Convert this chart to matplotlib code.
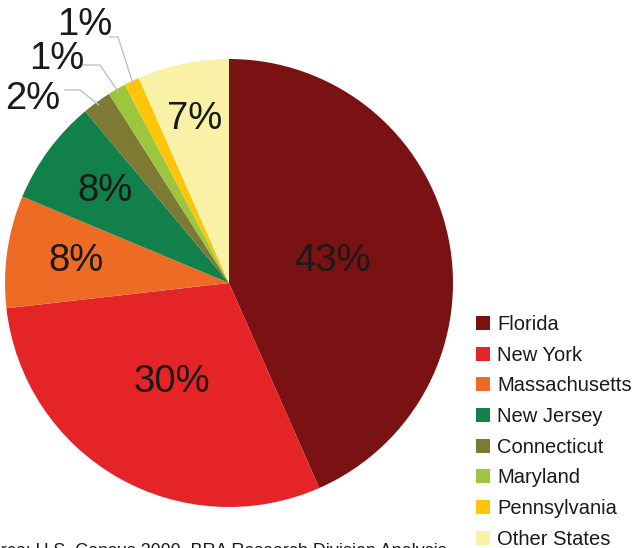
import matplotlib
matplotlib.use("Agg")
import matplotlib.pyplot as plt
from matplotlib.patches import Patch
import numpy as np

states = ["Florida", "New York", "Massachusetts", "New Jersey", "Connecticut",
          "Maryland", "Pennsylvania", "Other States"]
shares = [43.4, 29.8, 8.1, 7.6, 2.1, 1.3, 1.1, 6.6]
colors = ["#7A1214", "#E52428", "#EE6B26", "#12804A", "#7C7A33",
          "#9CC63E", "#FFC50A", "#F8F1A6"]
source = "Source: U.S. Census 2000, BRA Research Division Analysis"

plt.rcParams['font.family'] = ['Liberation Sans', 'DejaVu Sans']

W, H = 635, 548
fig = plt.figure(figsize=(W / 100, H / 100), dpi=100)
ax = fig.add_axes([0, 0, 1, 1])
cx, cy, R = 229, 283, 224

wedges, _ = ax.pie(shares, colors=colors, startangle=90, counterclock=False,
                   radius=1.0, center=(0, 0), frame=True,
                   wedgeprops=dict(linewidth=0))
ax.set_xlim(-cx / R, (W - cx) / R)
ax.set_ylim(-(H - cy) / R, cy / R)
ax.set_aspect('auto')
ax.axis('off')


def px2d(x, y):
    return (x - cx) / R, (cy - y) / R


# inside label distances (fraction of radius)
inside_dist = {0: 0.47, 1: 0.51, 2: 0.69, 3: 0.69, 7: 0.75}
for i, w in enumerate(wedges):
    mid = np.deg2rad((w.theta1 + w.theta2) / 2)
    lab = f"{shares[i]:.0f}%"
    if i in inside_dist:
        d = inside_dist[i]
        ax.text(d * np.cos(mid), d * np.sin(mid), lab, ha='center', va='center',
                fontsize=27.5, color='#1a1a1a')

# outside labels for small slices, with elbow leader lines
# label centre, line start, elbow (pixels)
outside = {4: ((33, 99), (65, 90), (80, 90)),
           5: ((57, 59), (83, 65), (100, 65)),
           6: ((85, 25), (110, 37), (118, 37))}
for i, (lab_xy, start_xy, elbow_xy) in outside.items():
    w = wedges[i]
    mid = np.deg2rad((w.theta1 + w.theta2) / 2)
    px, py = 0.985 * np.cos(mid), 0.985 * np.sin(mid)
    sx, sy = px2d(*start_xy)
    ex, ey = px2d(*elbow_xy)
    ax.plot([sx, ex, px], [sy, ey, py], color='#b8bcc4', lw=0.9)
    tx, ty = px2d(*lab_xy)
    ax.text(tx, ty, f"{shares[i]:.0f}%", ha='center', va='center',
            fontsize=27.5, color='#1a1a1a')

handles = [Patch(facecolor=c, edgecolor='none') for c in colors]
leg = fig.legend(handles, states, loc='upper left', bbox_to_anchor=(476 / W, 1 - 315 / H),
                 frameon=False, fontsize=14.5, handlelength=0.7, handleheight=0.7,
                 handletextpad=0.35, labelspacing=0.58, borderpad=0, borderaxespad=0)
for t in leg.get_texts():
    t.set_color('#1a1a1a')

fig.text(447 / W, 1 - 543 / H, source, ha='right', va='top', fontsize=12.9, color='#1a1a1a')

fig.savefig("out.png", dpi=100)
